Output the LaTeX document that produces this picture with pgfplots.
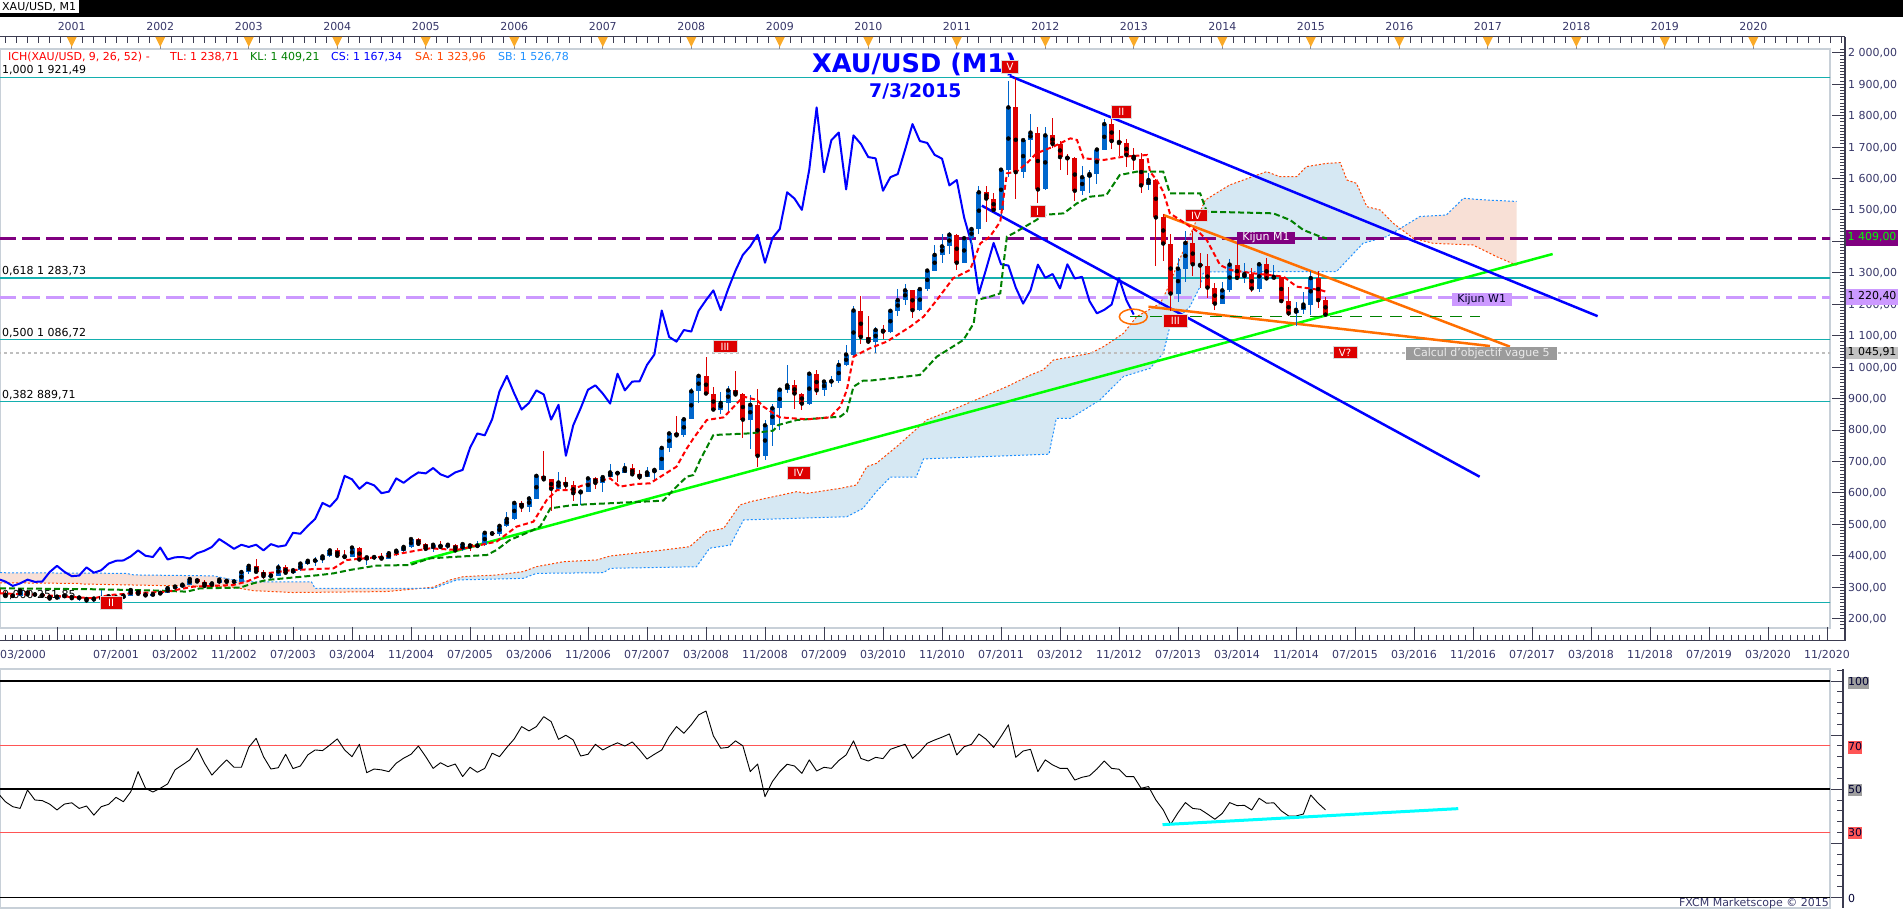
\documentclass[border=0pt]{standalone}
\usepackage{pgfplots}
\pgfplotsset{compat=1.18}
\usepackage{pgfplotstable}
\usepgfplotslibrary{fillbetween}
\usepackage{fontspec}
\setmainfont{DejaVu Sans}
\newcommand\fs[1]{\fontsize{#1}{#1}\selectfont}

\definecolor{axtext}{RGB}{55,55,105}
\definecolor{stripcol}{RGB}{60,60,80}
\definecolor{framegray}{RGB}{200,208,216}
\definecolor{fibcyan}{RGB}{20,175,175}
\definecolor{candleup}{RGB}{0,102,204}
\definecolor{candledown}{RGB}{221,0,0}
\definecolor{tenkan}{RGB}{255,0,0}
\definecolor{kijun}{RGB}{0,128,0}
\definecolor{chikou}{RGB}{0,0,255}
\definecolor{senkA}{RGB}{255,69,0}
\definecolor{senkB}{RGB}{30,144,255}
\definecolor{cloudblue}{RGB}{214,232,243}
\definecolor{cloudpink}{RGB}{248,224,214}
\definecolor{kijunM}{RGB}{128,0,128}
\definecolor{kijunW}{RGB}{204,153,255}
\definecolor{limeline}{RGB}{0,255,0}
\definecolor{trendblue}{RGB}{0,0,255}
\definecolor{trendorange}{RGB}{255,110,0}
\definecolor{labred}{RGB}{221,0,0}
\definecolor{dotgray}{RGB}{190,190,190}
\definecolor{rsired}{RGB}{255,85,85}
\definecolor{triorange}{RGB}{250,170,40}
\definecolor{rsicyan}{RGB}{0,255,255}
\definecolor{boxgray}{RGB}{155,155,155}
\definecolor{valgray}{RGB}{195,195,195}

% monthly OHLC, t = months since 03/2000
\pgfplotstableread{
t o h l c
0 293 298 274 278
1 278 289 273 274
2 274 280 268 272
3 272 294 271 289
4 289 290 274 277
5 276 280 271 277
6 277 277 269 273
7 273 275 263 264
8 264 270 263 270
9 270 275 267 273
10 273 273 263 265
11 265 269 255 267
12 267 270 256 258
13 258 266 254 264
14 264 292 263 266
15 266 275 265 271
16 271 272 264 265
17 265 281 264 273
18 273 294 271 291
19 291 293 277 279
20 279 284 272 274
21 274 280 272 278
22 278 285 277 282
23 282 303 280 297
24 297 305 290 302
25 302 310 300 308
26 308 328 308 326
27 326 330 317 318
28 318 324 302 304
29 304 315 302 312
30 312 327 311 324
31 324 325 311 317
32 317 326 314 318
33 318 349 318 348
34 348 370 343 368
35 368 389 344 349
36 349 354 325 335
37 335 342 324 337
38 337 373 336 363
39 363 369 341 346
40 346 362 343 354
41 354 376 352 375
42 375 391 371 384
43 384 395 368 385
44 385 398 378 398
45 398 417 397 417
46 417 426 398 400
47 400 418 393 396
48 396 428 395 426
49 426 427 382 388
50 388 398 372 395
51 393 400 385 396
52 396 410 387 391
53 391 415 390 408
54 408 420 400 416
55 416 430 412 428
56 428 456 425 453
57 453 457 431 438
58 438 441 416 422
59 422 437 412 435
60 435 446 425 428
61 428 439 422 435
62 435 437 414 417
63 417 442 416 437
64 437 438 414 429
65 429 447 429 433
66 433 476 432 473
67 473 479 462 470
68 470 497 463 495
69 495 539 490 517
70 517 571 513 568
71 568 574 538 556
72 556 589 538 582
73 582 655 580 654
74 654 732 637 643
75 643 643 543 613
76 613 667 605 633
77 633 650 611 624
78 624 637 573 599
79 599 608 561 604
80 604 648 602 646
81 646 650 612 632
82 632 653 603 650
83 650 691 649 665
84 665 671 636 662
85 662 694 662 679
86 679 693 653 659
87 659 672 640 650
88 650 683 650 665
89 665 680 642 673
90 673 748 672 743
91 743 795 730 789
92 789 845 777 783
93 783 840 778 834
94 834 932 834 923
95 923 973 887 972
96 972 1033 915 916
97 916 937 860 865
98 865 920 850 886
99 886 939 860 926
100 926 988 910 913
101 913 918 773 833
102 833 912 740 880
103 880 930 681 718
104 718 832 705 815
105 815 882 750 869
106 869 929 800 928
107 928 1007 917 942
108 942 960 866 916
109 916 918 865 884
110 884 983 881 979
111 979 991 912 926
112 926 960 908 954
113 954 972 938 955
114 955 1024 948 1007
115 1007 1070 1002 1040
116 1040 1195 1033 1180
117 1180 1227 1075 1096
118 1096 1162 1075 1081
119 1081 1126 1045 1118
120 1118 1134 1088 1113
121 1113 1181 1110 1179
122 1179 1249 1163 1213
123 1213 1265 1198 1244
124 1244 1245 1155 1181
125 1181 1253 1180 1248
126 1248 1313 1243 1307
127 1307 1388 1307 1357
128 1357 1424 1330 1384
129 1384 1431 1360 1421
130 1421 1424 1309 1332
131 1332 1412 1330 1410
132 1410 1447 1382 1439
133 1439 1576 1422 1556
134 1556 1577 1462 1536
135 1536 1553 1496 1500
136 1500 1632 1478 1628
137 1628 1911 1604 1826
138 1826 1921 1534 1620
139 1620 1726 1603 1722
140 1722 1804 1667 1746
141 1746 1763 1523 1565
142 1565 1763 1563 1737
143 1737 1792 1696 1710
144 1710 1719 1627 1668
145 1668 1678 1611 1664
146 1664 1667 1527 1561
147 1561 1640 1547 1604
148 1604 1627 1555 1614
149 1614 1693 1582 1692
150 1692 1790 1689 1773
151 1773 1796 1693 1719
152 1719 1755 1672 1713
153 1713 1727 1636 1675
154 1675 1697 1626 1663
155 1663 1680 1555 1578
156 1578 1617 1562 1595
157 1595 1598 1321 1476
158 1476 1488 1338 1393
159 1393 1424 1180 1234
160 1234 1348 1208 1313
161 1313 1433 1270 1395
162 1395 1434 1290 1327
163 1327 1362 1251 1323
164 1323 1361 1221 1253
165 1253 1267 1182 1202
166 1202 1270 1200 1244
167 1244 1344 1238 1326
168 1326 1392 1277 1284
169 1284 1331 1268 1296
170 1296 1314 1240 1250
171 1250 1333 1240 1327
172 1327 1346 1281 1282
173 1282 1324 1281 1287
174 1287 1288 1206 1210
175 1210 1256 1161 1171
176 1171 1208 1131 1182
177 1182 1239 1170 1199
178 1199 1307 1167 1283
179 1283 1307 1189 1213
180 1213 1224 1161 1167
}\tabOHLC

% Tenkan-sen (TL)
\pgfplotstableread{
t p
0.27 280.5
5.7 275.2
9.3 269.9
12.9 264.6
15.2 275.2
18.4 280.5
22.9 285.8
26.5 301.7
31.9 307.0
33.7 317.6
36.4 344.1
40.0 354.7
45.5 360.0
47.3 386.5
52.2 397.1
57.2 418.3
58.6 423.6
62.2 418.3
65.4 434.2
67.6 444.8
70.3 492.5
72.6 508.4
74.4 577.3
75.8 609.1
77.6 609.1
79.4 625.0
83.0 646.2
84.3 619.7
86.6 628.2
88.4 630.3
90.2 656.8
92.0 683.3
93.4 741.6
94.3 773.4
96.1 831.7
98.4 840.2
100.2 884.8
101.1 906.0
102.9 895.4
103.8 874.1
106.0 840.2
109.7 833.9
112.8 840.2
114.2 874.1
115.1 927.2
116.0 1033.2
117.3 1049.1
118.2 1059.7
120.5 1080.9
123.7 1128.6
125.5 1160.4
127.3 1213.4
129.5 1282.4
131.8 1308.9
133.2 1393.6
134.5 1415.0
135.9 1462.6
136.8 1616.3
138.1 1621.6
139.5 1648.1
140.8 1679.9
143.1 1701.2
145.4 1727.6
146.3 1722.3
147.2 1664.0
149.9 1658.7
152.6 1669.3
155.8 1674.6
156.2 1621.6
157.1 1595.1
158.0 1558.0
158.9 1489.1
160.3 1467.9
163.0 1425.5
163.9 1404.3
165.7 1324.8
167.1 1308.9
170.2 1298.3
174.3 1287.7
176.1 1255.9
179.3 1245.3
180.2 1238.7
}\tabTK

% Kijun-sen (KL)
\pgfplotstableread{
t p
0.27 296.4
13.8 293.2
22.0 289.0
25.6 285.8
27.4 296.4
32.8 298.5
34.6 312.3
36.4 322.9
43.7 338.8
45.5 344.1
47.7 354.7
51.3 368.5
55.9 370.6
57.2 381.2
58.6 391.8
66.3 402.4
67.6 418.3
69.4 450.1
72.1 476.6
73.5 492.5
74.9 550.8
78.0 561.4
90.2 575.2
92.0 619.7
93.4 651.5
94.3 656.8
95.2 704.5
97.0 784.0
102.0 789.3
105.1 797.8
105.8 815.8
108.3 831.7
114.2 842.4
115.1 858.2
116.0 937.8
117.3 956.9
118.2 956.9
125.0 974.9
127.3 1033.2
129.1 1059.7
130.9 1086.2
132.3 1139.2
132.7 1213.4
134.5 1224.0
135.9 1234.6
136.3 1319.5
136.8 1414.9
137.7 1425.5
140.8 1467.9
141.7 1483.8
144.5 1489.1
146.3 1520.9
148.1 1542.1
150.3 1547.4
152.1 1611.0
154.4 1621.6
158.0 1621.6
158.9 1552.7
163.0 1552.7
163.9 1494.4
172.9 1489.1
175.2 1467.9
177.0 1436.1
179.3 1414.9
180.2 1409.2
}\tabKJ

% Senkou span A (SA)
\pgfplotstableread{
t p
0.27 314
10.7 312
11.6 310
29.2 302
31.9 300
34.6 289
40.0 283
52.7 286
59.0 300
61.3 323
63.1 333.5
67.6 338.8
71.2 349.4
73.0 365.2
76.7 381.2
81.2 386.5
83.0 399.2
90.2 418.3
93.8 428.9
96.1 476.6
98.4 487.2
100.6 561.4
102.0 572.0
108.3 603.8
109.7 598.5
114.2 614.4
116.4 625.0
117.8 683.3
119.1 693.9
122.0 750
125.9 831.8
129.0 860
133.0 900
137.0 940
140.0 975
141.7 990.8
143.1 1022.6
148.1 1043.8
149.9 1065.0
152.6 1107.4
154.4 1160.4
157.6 1202.8
158.5 1245.3
160.0 1330
162.0 1440
163.7 1531.5
167.0 1579.3
172.0 1621.6
173.8 1605.7
176.1 1605.7
177.4 1637.6
180.2 1648.2
182.0 1650.3
182.9 1595.2
184.2 1584.5
185.6 1510.3
187.4 1499.7
189.2 1457.3
190.1 1441.4
191.9 1409.6
194.6 1393.7
200.0 1388.4
203.2 1351.3
205.9 1324.0
}\tabSA

% Senkou span B (SB)
\pgfplotstableread{
t p
0.27 346
17.4 344
18.4 339
29.2 336
31.9 323
34.6 317
42.5 317
43.0 296
59.0 296
62.2 323
71.2 328
73.0 344
82.1 346
83.0 360
94.7 365
96.5 424
99.3 434
101.1 514
115.1 524
117.3 551
119.1 604
121.0 650
124.5 650
125.5 708
142.5 723
143.5 837
145.4 837
149.4 895
152.6 970
156.2 996
158.0 1044
158.9 1129
161.6 1192
163.0 1256
163.4 1298
163.9 1303
181.5 1304
185.1 1394
188.3 1415
192.8 1479
196.4 1484
198.7 1537
201.4 1532
205.9 1527
}\tabSB

% monthly RSI
\pgfplotstableread{
t r
0 48.1
1 44.2
2 41.9
3 41.1
4 49.6
5 45.0
6 44.7
7 43.1
8 40.4
9 43.1
10 43.7
11 41.1
12 42.2
13 38.0
14 41.9
15 43.0
16 46.2
17 44.2
18 48.8
19 58.1
20 50.4
21 48.7
22 50.4
23 52.4
24 58.9
25 61.2
26 63.5
27 68.9
28 62.0
29 56.5
30 60.1
31 63.5
32 60.1
33 60.1
34 69.3
35 73.5
36 65.0
37 59.3
38 59.9
39 66.1
40 59.5
41 60.7
42 65.8
43 68.1
44 67.8
45 70.4
46 73.2
47 68.1
48 65.0
49 70.7
50 57.6
51 59.3
52 58.9
53 58.1
54 62.0
55 64.3
56 66.1
57 69.9
58 65.0
59 59.6
60 62.2
61 60.4
62 61.6
63 55.8
64 60.1
65 57.8
66 59.6
67 66.6
68 65.0
69 69.3
70 73.2
71 78.9
72 76.9
73 78.9
74 83.5
75 81.2
76 73.0
77 74.9
78 72.7
79 65.3
80 66.1
81 70.7
82 68.1
83 69.9
84 71.4
85 69.9
86 71.8
87 68.1
88 63.9
89 66.1
90 68.1
91 74.3
92 78.9
93 75.8
94 79.7
95 84.3
96 86.1
97 74.6
98 68.9
99 69.3
100 72.3
101 70.0
102 58.1
103 61.6
104 46.5
105 53.5
106 58.1
107 61.5
108 60.7
109 57.3
110 63.5
111 58.4
112 60.1
113 59.6
114 63.2
115 65.8
116 72.3
117 64.2
118 63.0
119 64.7
120 64.1
121 68.4
122 69.6
123 70.7
124 64.2
125 67.3
126 71.2
127 72.7
128 74.0
129 75.5
130 65.8
131 69.6
132 70.7
133 75.5
134 73.0
135 69.3
136 74.3
137 79.7
138 64.7
139 67.6
140 68.4
141 58.1
142 63.5
143 61.2
144 59.6
145 59.6
146 54.2
147 55.5
148 56.2
149 59.3
150 63.0
151 59.6
152 59.2
153 55.8
154 55.8
155 50.4
156 51.2
157 45.0
158 40.4
159 33.7
160 39.1
161 43.8
162 41.1
163 40.7
164 38.5
165 36.1
166 38.8
167 43.8
168 42.4
169 42.5
170 40.4
171 45.8
172 43.5
173 43.7
174 40.0
175 37.6
176 37.6
177 38.5
178 47.3
179 43.5
180 40.4
}\tabRSI

\begin{document}
\begin{tikzpicture}[x=1pt,y=1pt]
\path (0,0) rectangle (1903,910);

% --- labels lying under the price data (pixel coordinates, y downwards)
\begin{scope}[shift={(0,910)},yscale=-1]
\tikzset{fib/.style={anchor=base west, inner sep=0pt, font=\fs{11}, text=black}}
\node[fib] at (2,74) {1,000 1 921,49};
\node[fib] at (2,274.5) {0,618 1 283,73};
\node[fib] at (2,336.5) {0,500 1 086,72};
\node[fib] at (2,398.5) {0,382 889,71};
\node[fib] at (2,599) {0,000 251,85};
\end{scope}

% ================= MAIN PRICE PANEL =================
\begin{axis}[
  at={(0pt,282pt)}, anchor=south west,
  width=1830pt, height=579pt, scale only axis,
  xmin=0.27, xmax=248.41, ymin=170.2, ymax=2011.8,
  xtick=\empty, ytick=\empty,
  axis line style={draw=framegray, line width=1.5pt},
  clip=true,
]
% Kumo (cloud)
\addplot[draw=none, name path=saP, forget plot] table[x=t,y=p] {\tabSA};
\addplot[draw=none, name path=sbP, forget plot] table[x=t,y=p] {\tabSB};
\addplot[fill=cloudpink, draw=none] fill between[of=saP and sbP, soft clip={domain=0:58}];
\addplot[fill=cloudblue, draw=none] fill between[of=saP and sbP, soft clip={domain=58:190.1}];
\addplot[fill=cloudpink, draw=none] fill between[of=saP and sbP, soft clip={domain=190.1:206}];
\addplot[senkA, line width=1pt, dash pattern=on 2pt off 2pt] table[x=t,y=p] {\tabSA};
\addplot[senkB, line width=1pt, dash pattern=on 2pt off 2pt] table[x=t,y=p] {\tabSB};

% Fibonacci and other horizontal levels
\addplot[fibcyan, line width=1.3pt] coordinates {(0,1921.49) (250,1921.49)};
\addplot[fibcyan, line width=1.3pt] coordinates {(0,1283.73) (250,1283.73)};
\addplot[fibcyan, line width=1.3pt] coordinates {(0,1086.72) (250,1086.72)};
\addplot[fibcyan, line width=1.3pt] coordinates {(0,889.71) (250,889.71)};
\addplot[fibcyan, line width=1.3pt] coordinates {(0,251.85) (250,251.85)};
\addplot[dotgray, line width=2pt, dash pattern=on 3pt off 3pt] coordinates {(0,1045.91) (250,1045.91)};
\addplot[kijunM, line width=3.5pt, dash pattern=on 18pt off 6pt] coordinates {(0,1409) (250,1409)};
\addplot[kijunW, line width=3pt, dash pattern=on 18pt off 6pt] coordinates {(0,1220.40) (250,1220.40)};

% Chikou span (close shifted back 26 months)
\addplot[chikou, line width=2pt, line join=round] table[x expr=\thisrow{t}-26, y=c] {\tabOHLC};

% trend lines
\addplot[limeline, line width=2.5pt] coordinates {(55.9,375.9) (210.8,1359.7)};
\addplot[trendblue, line width=2.5pt] coordinates {(137.2,1926) (216.9,1162)};
\addplot[trendblue, line width=2.5pt] coordinates {(133.4,1513.4) (200.9,651.4)};
\addplot[trendorange, line width=2.5pt] coordinates {(158.0,1484) (205.0,1065)};
\addplot[trendorange, line width=2.5pt] coordinates {(156.0,1192.1) (202.3,1067)};
\addplot[kijun, line width=1.2pt, dash pattern=on 12pt off 8pt] coordinates {(153.5,1162) (201,1162)};

% candlesticks: wicks
\addplot[only marks, mark=none, forget plot,
  x filter/.expression={\thisrow{c}>=\thisrow{o} ? x : nan},
  error bars/y dir=both, error bars/y explicit, error bars/error mark=none,
  error bars/error bar style={line width=1pt, draw=candleup}]
  table[x=t, y=c, y error plus expr=\thisrow{h}-\thisrow{c}, y error minus expr=\thisrow{c}-\thisrow{l}] {\tabOHLC};
\addplot[only marks, mark=none, forget plot,
  x filter/.expression={\thisrow{c}<\thisrow{o} ? x : nan},
  error bars/y dir=both, error bars/y explicit, error bars/error mark=none,
  error bars/error bar style={line width=1pt, draw=candledown}]
  table[x=t, y=c, y error plus expr=\thisrow{h}-\thisrow{c}, y error minus expr=\thisrow{c}-\thisrow{l}] {\tabOHLC};
% candlesticks: bodies
\addplot[only marks, mark=none, forget plot,
  x filter/.expression={\thisrow{c}>=\thisrow{o} ? x : nan},
  error bars/y dir=both, error bars/y explicit, error bars/error mark=none,
  error bars/error bar style={line width=5pt, draw=candleup}]
  table[x=t, y expr={(\thisrow{o}+\thisrow{c})/2}, y error expr={abs(\thisrow{c}-\thisrow{o})/2}] {\tabOHLC};
\addplot[only marks, mark=none, forget plot,
  x filter/.expression={\thisrow{c}<\thisrow{o} ? x : nan},
  error bars/y dir=both, error bars/y explicit, error bars/error mark=none,
  error bars/error bar style={line width=5pt, draw=candledown}]
  table[x=t, y expr={(\thisrow{o}+\thisrow{c})/2}, y error expr={abs(\thisrow{c}-\thisrow{o})/2}] {\tabOHLC};

% Tenkan and Kijun
\addplot[kijun, line width=2pt, dash pattern=on 6pt off 3pt] table[x=t,y=p] {\tabKJ};
\addplot[tenkan, line width=2pt, dash pattern=on 5pt off 3pt] table[x=t,y=p] {\tabTK};
\end{axis}

% ================= RSI PANEL =================
\begin{axis}[
  at={(0pt,2pt)}, anchor=south west,
  width=1830pt, height=239pt, scale only axis,
  xmin=0.27, xmax=248.41, ymin=-4.9, ymax=105.5,
  xtick=\empty, ytick=\empty,
  axis line style={draw=framegray, line width=1.5pt},
  clip=true,
]
\addplot[black, line width=1.3pt] coordinates {(0,100) (250,100)};
\addplot[black, line width=1.3pt] coordinates {(0,50) (250,50)};
\addplot[black, line width=1.3pt] coordinates {(0,0) (250,0)};
\addplot[rsired, line width=1.2pt] coordinates {(0,70) (250,70)};
\addplot[rsired, line width=1.2pt] coordinates {(0,30) (250,30)};
\addplot[black, line width=0.9pt, line join=round] table[x=t,y=r] {\tabRSI};
\addplot[rsicyan, line width=3pt] coordinates {(157.9,33.6) (198.0,41.0)};
\end{axis}

% --- decorations in pixel coordinates (y downwards)
\begin{scope}[shift={(0,910)},yscale=-1]
% top bar
\fill[black] (0,0) rectangle (1903,17);
\fill[white] (0,0) rectangle (79,13.5);
\node[anchor=base west, inner sep=0pt, font=\fs{11}] at (2,11) {XAU/USD, M1};

% top time strip
\draw[stripcol, line width=1pt] (0,37) -- (1845,37);
\foreach \j in {0,...,166}{
  \pgfmathsetmacro\xx{5.375+11.0625*\j}
  \draw[stripcol, line width=0.8pt] (\xx,37) -- (\xx,43);
}
\foreach \k in {0,...,19}{
  \pgfmathsetmacro\xx{71.75+88.5*\k}
  \pgfmathtruncatemacro\yr{2001+\k}
  \draw[stripcol!60, line width=0.8pt] (\xx,37) -- (\xx,49);
  \fill[triorange] (\xx-5,37) -- (\xx+5,37) -- (\xx,47) -- cycle;
  \node[anchor=base, inner sep=0pt, font=\fs{11}, text=axtext] at (\xx,31) {\yr};
}

% right price scale
\draw[stripcol, line width=1.2pt] (1845,37) -- (1845,640.7);
\foreach \p in {170,180,...,2010}{
  \pgfmathsetmacro\yy{52.7+(2000-\p)*0.3144}
  \pgfmathtruncatemacro\mm{mod(\p,100)}
  \ifnum\mm=0
    \draw[stripcol, line width=0.9pt] (1832,\yy) -- (1845,\yy);
  \else
    \draw[stripcol, line width=0.9pt] (1840,\yy) -- (1845,\yy);
  \fi
}
\foreach \p/\lab in {2000/{2 000,00},1900/{1 900,00},1800/{1 800,00},1700/{1 700,00},1600/{1 600,00},1500/{1 500,00},1300/{1 300,00},1200/{1 200,00},1100/{1 100,00},1000/{1 000,00},900/{900,00},800/{800,00},700/{700,00},600/{600,00},500/{500,00},400/{400,00},300/{300,00},200/{200,00}}{
  \pgfmathsetmacro\yy{52.7+(2000-\p)*0.3144+4}
  \node[anchor=base west, inner sep=0pt, font=\fs{11}, text=axtext] at (1848,\yy) {\lab};
}

% bottom time strip
\draw[stripcol, line width=1pt] (0,640.7) -- (1845,640.7);
\foreach \t in {1,...,248}{
  \pgfmathsetmacro\xx{-2+7.375*\t}
  \draw[stripcol, line width=0.8pt] (\xx,635) -- (\xx,640.7);
}
\foreach \t in {8,16,...,248}{
  \pgfmathsetmacro\xx{-2+7.375*\t}
  \draw[stripcol, line width=0.8pt] (\xx,627) -- (\xx,640.7);
}
\node[anchor=base, inner sep=0pt, font=\fs{11}, text=axtext] at (23,659) {03/2000};
\foreach \t in {16,24,...,248}{
  \pgfmathsetmacro\xx{-2+7.375*\t}
  \pgfmathtruncatemacro\mm{mod(2+\t,12)+1}
  \pgfmathtruncatemacro\yr{2000+floor((2+\t)/12)}
  \node[anchor=base, inner sep=0pt, font=\fs{11}, text=axtext] at (\xx,659) {\ifnum\mm<10 0\fi\mm/\yr};
}

% indicator header
\tikzset{hdr/.style={anchor=base west, inner sep=0pt, font=\fs{11}}}
\node[hdr, text=tenkan] at (8,61) {ICH(XAU/USD, 9, 26, 52) -};
\node[hdr, text=tenkan] at (170,61) {TL: 1 238,71};
\node[hdr, text=kijun] at (250,61) {KL: 1 409,21};
\node[hdr, text=chikou] at (331,61) {CS: 1 167,34};
\node[hdr, text=senkA] at (415,61) {SA: 1 323,96};
\node[hdr, text=senkB] at (498,61) {SB: 1 526,78};

% title
\node[anchor=base, inner sep=0pt, text=chikou, font=\bfseries\fs{25.6}] at (914.5,72.3) {XAU/USD (M1)};
\node[anchor=base, inner sep=0pt, text=chikou, font=\bfseries\fs{18.8}] at (915.3,97.3) {7/3/2015};

% orange circle
\draw[trendorange, line width=1.5pt] (1133.3,316.7) ellipse [x radius=14, y radius=7.5];

% wave labels
\tikzset{lab/.style={fill=labred, text=white, font=\fs{10}, minimum height=12.5pt, inner sep=0pt, text height=7.5pt, text depth=0pt, draw=white!70!gray, line width=0.6pt}}
\node[lab, minimum width=22pt] at (111,603) {II};
\node[lab, minimum width=24pt] at (725,346.5) {III};
\node[lab, minimum width=23pt] at (798.5,473) {IV};
\node[lab, minimum width=17pt] at (1010,67) {V};
\node[lab, minimum width=15pt] at (1037.5,211.3) {I};
\node[lab, minimum width=20pt] at (1121.3,111.7) {II};
\node[lab, minimum width=22pt] at (1196,215.5) {IV};
\node[lab, minimum width=24pt] at (1175.3,320.7) {III};
\node[lab, minimum width=24pt] at (1345,352.3) {V?};

% line tags
\tikzset{tag/.style={font=\fs{11}, inner sep=0pt, text height=8pt, text depth=2.5pt}}
\node[tag, fill=kijunM, text=white, minimum width=58pt, minimum height=12.5pt] at (1266,237.8) {Kijun M1};
\node[tag, fill=kijunW, text=black!85!blue, minimum width=60pt, minimum height=12.5pt] at (1481.7,299.5) {Kijun W1};
\node[tag, fill=boxgray, text=white!92!black, minimum width=151pt, minimum height=12.7pt] at (1481.5,353.7) {Calcul d'objectif vague 5};

% value tags on the price scale
\node[tag, fill=kijunM, text=limeline, minimum width=52pt, minimum height=16pt] at (1872,238) {1 409,00};
\node[tag, fill=kijunW, text=black, minimum width=52pt, minimum height=15.7pt] at (1872,297.2) {1 220,40};
\node[tag, fill=valgray, text=black, minimum width=52pt, minimum height=12.6pt] at (1872,353) {1 045,91};

% RSI scale
\draw[stripcol, line width=1.2pt] (1843,669) -- (1843,908);
\foreach \r in {0,5,...,105}{
  \pgfmathsetmacro\yy{897.3-2.163*\r}
  \pgfmathtruncatemacro\mm{mod(\r,25)}
  \ifnum\mm=0
    \draw[stripcol, line width=0.9pt] (1831,\yy) -- (1843,\yy);
  \else
    \draw[stripcol, line width=0.9pt] (1837,\yy) -- (1843,\yy);
  \fi
}
\node[tag, fill=gray!75, text=black!80!blue, minimum width=21pt, minimum height=12.3pt] at (1858.5,683) {100};
\node[tag, fill=rsired, text=black!80!blue, minimum width=14pt, minimum height=12.3pt] at (1855,747.5) {70};
\node[tag, fill=gray!75, text=black!80!blue, minimum width=14pt, minimum height=12.3pt] at (1855,790.3) {50};
\node[tag, fill=rsired, text=black!80!blue, minimum width=14pt, minimum height=12.3pt] at (1855,833.3) {30};
\node[anchor=base west, inner sep=0pt, font=\fs{11}, text=black!80!blue] at (1848,902) {0};

\node[anchor=base east, inner sep=0pt, font=\fs{11}, text=axtext] at (1829,906) {FXCM Marketscope © 2015};
\end{scope}
\pgfresetboundingbox
\useasboundingbox (0,0) rectangle (1903,910);
\end{tikzpicture}
\end{document}
